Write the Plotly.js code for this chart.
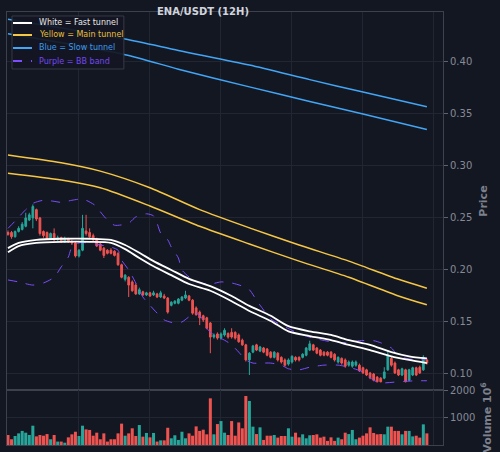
<!DOCTYPE html>
<html><head><meta charset="utf-8">
<script src="https://cdn.plot.ly/plotly-3.0.1.min.js"></script>
<style>html,body{margin:0;padding:0;background:#131722;}#chart{width:500px;height:452px;}</style>
</head><body><div id="chart"></div>
<script>
// ---- candles (12H) ----
const openP = [.236,.236,.232,.237,.239,.242,.248,.250,.258,.250,.237,.236,.230,.235,.229,.231,.227,.230,.227,.226,.2135,.219,.2375,.236,.233,.230,.225,.221,.219,.219,.218,.216,.205,.191,.193,.1885,.1855,.177,.179,.176,.178,.176,.177,.174,.175,.173,.166,.168,.168,.171,.173,.175,.171,.1635,.1595,.156,.154,.149,.1355,.1385,.1345,.1375,.139,.140,.140,.1375,.1325,.128,.1135,.121,.128,.122,.125,.124,.121,.116,.120,.116,.1135,.1095,.1115,.116,.116,.116,.118,.123,.128,.125,.123,.121,.121,.121,.119,.1115,.115,.1135,.1085,.1075,.1085,.1085,.106,.104,.101,.100,.097,.096,.096,.104,.115,.1105,.104,.099,.104,.094,.099,.106,.1065,.104,.1135];
const highP = [.238,.2375,.238,.242,.246,.255,.255,.263,.259,.251,.238,.237,.236,.240,.233,.232,.232,.231,.229,.227,.220,.253,.253,.240,.235,.231,.226,.222,.220,.221,.219,.217,.206,.196,.194,.190,.187,.183,.180,.179,.179,.180,.178,.180,.177,.174,.170,.171,.173,.175,.180,.176,.172,.165,.161,.157,.155,.150,.139,.140,.140,.144,.140,.144,.141,.139,.134,.129,.121,.128,.129,.127,.126,.125,.122,.122,.121,.117,.115,.115,.118,.117,.117,.120,.126,.132,.129,.126,.124,.122,.122,.122,.120,.117,.116,.115,.113,.113,.113,.110,.107,.105,.102,.101,.098,.097,.1065,.123,.117,.112,.105,.106,.105,.105,.107,.107,.108,.118,.115];
const lowP = [.233,.230,.231,.236,.238,.241,.247,.240,.247,.233,.231,.229,.229,.228,.228,.226,.226,.226,.224,.212,.212,.218,.233,.231,.228,.222,.218,.2115,.215,.215,.213,.204,.192,.189,.174,.179,.176,.176,.175,.175,.174,.175,.173,.173,.172,.158,.165,.167,.167,.170,.172,.170,.157,.156,.147,.150,.143,.120,.134,.133,.133,.136,.134,.134,.133,.130,.127,.112,.099,.120,.122,.121,.120,.117,.115,.115,.112,.110,.107,.108,.110,.112,.112,.115,.117,.122,.122,.119,.117,.117,.117,.115,.112,.110,.109,.106,.107,.106,.107,.102,.100,.098,.095,.093,.092,.092,.095,.103,.107,.100,.098,.098,.092,.093,.098,.098,.100,.103,.109];
const closeP = [.234,.232,.237,.240,.244,.250,.253,.261,.249,.235,.233,.230,.235,.229,.231,.227,.230,.227,.226,.2135,.219,.240,.235,.232,.229,.223,.219,.214,.216,.216,.214,.205,.193,.195,.1855,.180,.177,.181,.176,.178,.175,.178,.174,.178,.173,.1595,.169,.170,.172,.174,.176,.171,.1585,.157,.154,.152,.144,.1355,.1375,.1345,.1385,.142,.1355,.1355,.1345,.131,.128,.1135,.120,.127,.123,.126,.121,.118,.116,.121,.1135,.1115,.1085,.1135,.117,.1135,.1135,.119,.125,.129,.123,.120,.118,.118,.118,.116,.1135,.116,.1105,.1075,.1115,.1115,.1115,.103,.101,.099,.0962,.094,.0925,.0925,.102,.118,.1085,.101,.099,.105,.0925,.104,.106,.099,.101,.116,.1105];
// volume (millions)
const volume = [365,210,330,425,515,450,365,705,315,365,340,400,210,365,125,125,85,280,390,485,330,705,570,550,340,450,210,425,125,210,210,425,780,340,425,610,330,730,305,440,280,440,125,170,170,630,245,355,185,485,245,425,340,680,515,560,390,1705,390,765,875,450,365,875,340,825,610,1790,1610,670,400,645,185,340,340,365,270,330,330,610,305,450,280,390,245,355,365,390,270,305,150,280,150,270,210,450,400,550,210,270,340,425,645,440,390,400,390,670,670,515,515,390,515,515,315,340,270,755,425];

// ---- tunnels (sampled at candle indices) ----
const slowIdx = [0,33,48,68,85,100,118];
const slowUpper = [.441,.422,.411,.397,.383,.371,.357];
const slowLower = [.427,.407,.393,.376,.362,.350,.335];
const mainIdx = [0,15,26,40,54,68,82,96,110,118];
const mainUpper = [.3105,.303,.295,.279,.258,.2405,.224,.2085,.191,.1825];
const mainLower = [.293,.2865,.279,.2615,.242,.225,.2085,.193,.175,.1665];
const fastIdx = [0,3,8,15,23,29,33,37,41,46,51,57,63,68,74,79,85,91,96,102,108,113,118];
const fastUpper = [.221,.226,.229,.230,.230,.229,.224,.2165,.2085,.200,.1915,.1845,.175,.1655,.156,.146,.141,.1375,.1325,.128,.121,.117,.115];
const fastLower = [.217,.223,.226,.227,.227,.226,.220,.2115,.2035,.195,.1865,.180,.170,.1605,.151,.141,.1365,.1325,.128,.123,.117,.1135,.1105];
// ---- Bollinger band ----
const bbUpIdx = [0,2,5,7,10,13,15,18,20,22,25,26,28,30,34,36,39,41,42,43,45,46,48,49,53,57,60,63,66,68,70,72,74,77,80,83,86,91,95,99,103,105,108,110,113,116,118];
const bbUpper = [.240,.247,.258,.264,.267,.266,.265,.267,.268,.267,.261,.256,.248,.243,.245,.251,.254,.252,.245,.2355,.229,.222,.2115,.200,.1885,.1865,.1885,.1875,.1845,.181,.171,.1615,.153,.147,.142,.1375,.1345,.131,.130,.132,.132,.130,.125,.117,.1145,.1135,.1145];
const bbLoIdx = [0,3,7,10,13,15,17,18,20,23,26,29,31,32,34,36,38,40,42,44,47,49,51,53,55,56,58,61,63,65,67,69,72,74,77,79,82,85,89,93,96,100,103,105,110,115,118];
const bbLower = [.1904,.1885,.1855,.1875,.193,.203,.2125,.222,.226,.226,.224,.222,.219,.2095,.200,.1875,.174,.166,.1585,.152,.149,.150,.155,.1585,.152,.144,.1375,.1325,.128,.121,.1135,.1105,.1105,.1105,.1085,.105,.104,.1065,.1085,.1085,.1065,.102,.094,.0915,.0925,.0935,.0935];

const legendLabels = ['White = Fast tunnel','Yellow = Main tunnel','Blue = Slow tunnel','Purple = BB band'];

const UP = '#26a69a', DOWN = '#ef5350';
const WHITE = '#ffffff', YELLOW = '#f6c744', BLUE = '#42a5f5', PURPLE = '#7c4dff';
const idx = openP.map((_, i) => i);

function line(x, y, color, width, dash) {
  return {type:'scatter', mode:'lines', x:x, y:y, xaxis:'x', yaxis:'y',
    line:{color:color, width:width, dash:dash||'solid', shape:'spline', smoothing:0.7},
    showlegend:false, hoverinfo:'skip'};
}

const traces = [
  {type:'candlestick', x:idx, open:openP, high:highP, low:lowP, close:closeP,
   xaxis:'x', yaxis:'y', whiskerwidth:0,
   increasing:{line:{color:UP, width:1}, fillcolor:UP},
   decreasing:{line:{color:DOWN, width:1}, fillcolor:DOWN},
   showlegend:false, hoverinfo:'skip'},
  line(bbUpIdx, bbUpper, PURPLE, 1, 'dash'),
  line(bbLoIdx, bbLower, PURPLE, 1, 'dash'),
  line(slowIdx, slowUpper, BLUE, 1.5),
  line(slowIdx, slowLower, BLUE, 1.5),
  line(mainIdx, mainUpper, YELLOW, 1.5),
  line(mainIdx, mainLower, YELLOW, 1.5),
  line(fastIdx, fastUpper, WHITE, 1.8),
  line(fastIdx, fastLower, WHITE, 1.8),
  {type:'bar', x:idx, y:volume, xaxis:'x', yaxis:'y2',
   marker:{color: idx.map(i => closeP[i] >= openP[i] ? UP : DOWN), line:{width:0}},
   showlegend:false, hoverinfo:'skip'}
];

// custom legend box
const rowY = [0.9746, 0.9469, 0.9169, 0.8868];
const legColors = [WHITE, YELLOW, BLUE, PURPLE];
const legText = ['#e8e8e8', '#e8bf3c', '#3d9be9', '#7447f0'];
const shapes = [{type:'rect', xref:'paper', yref:'paper', x0:0.0115, x1:0.268, y0:0.8684, y1:0.9908,
  fillcolor:'rgba(19,23,34,0.93)', line:{color:'#363a45', width:1}, layer:'above'}];
const annotations = [];
legendLabels.forEach((t, k) => {
  shapes.push({type:'line', xref:'paper', yref:'paper', x0:0.0138, x1:0.0573, y0:rowY[k], y1:rowY[k],
    line:{color:legColors[k], width:2, dash: k===3 ? 'dash' : 'solid'}, layer:'above'});
  annotations.push({xref:'paper', yref:'paper', x:0.0688, y:rowY[k], xanchor:'left', yanchor:'middle',
    text:t, showarrow:false, font:{size:8, color:legText[k], family:'DejaVu Sans'}});
});

const GRID = '#222633', FRAME = '#3d414d', TICK = '#868a94';
const layout = {
  width:500, height:452,
  margin:{l:7, r:57, t:12, b:7},
  paper_bgcolor:'#131722', plot_bgcolor:'#131722',
  font:{family:'DejaVu Sans', size:10, color:TICK},
  title:{text:'<b>ENA/USDT (12H)</b>', x:0.406, xanchor:'center', y:0.9735, yanchor:'middle',
    font:{size:10, color:'#d1d4dc', family:'DejaVu Sans'}},
  showlegend:false,
  xaxis:{domain:[0,1], range:[-0.28,122.54], anchor:'y2', tickmode:'linear', tick0:0, dtick:20,
    showticklabels:false, ticks:'', showgrid:true, gridcolor:GRID, gridwidth:1,
    showline:true, linecolor:FRAME, linewidth:1, mirror:'all', zeroline:false,
    rangeslider:{visible:false}},
  yaxis:{domain:[0.127,1], range:[0.0846,0.448], side:'right', anchor:'x',
    tickmode:'linear', tick0:0.1, dtick:0.05, tickformat:'.2f',
    ticks:'outside', ticklen:4, tickcolor:'#5d6270', tickfont:{size:10, color:TICK},
    showgrid:true, gridcolor:GRID, showline:true, linecolor:FRAME, linewidth:1, mirror:true, zeroline:false,
    title:{text:'<b>Price</b>', font:{size:11, color:'#7d818c'}, standoff:8}},
  yaxis2:{domain:[0,0.127], range:[0,2010], side:'right', anchor:'x',
    tickmode:'array', tickvals:[1000,2000],
    ticks:'outside', ticklen:4, tickcolor:'#5d6270', tickfont:{size:10, color:TICK},
    showgrid:true, gridcolor:GRID, showline:true, linecolor:FRAME, linewidth:1, mirror:true, zeroline:false,
    title:{text:'<b>Volume 10<sup>6</sup></b>', font:{size:11, color:'#7d818c'}, standoff:8}},
  bargap:0.15,
  shapes:shapes, annotations:annotations
};

Plotly.newPlot('chart', traces, layout, {staticPlot:true, displayModeBar:false});
</script></body></html>
